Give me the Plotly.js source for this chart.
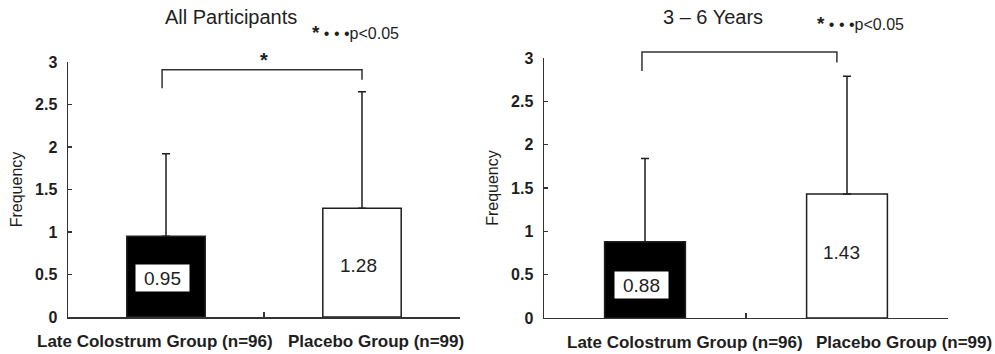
<!DOCTYPE html>
<html>
<head>
<meta charset="utf-8">
<script src="https://cdn.plot.ly/plotly-3.0.1.min.js"></script>
<style>html,body{margin:0;padding:0;background:#fff}#chart{width:995px;height:354px}</style>
</head>
<body>
<div id="chart"></div>
<script>
// ---- data ----
const groups = ["Late Colostrum Group (n=96)", "Placebo Group (n=99)"];
const panelTitles = ["All Participants", "3 \u2013 6 Years"];
const meansAll = [0.95, 1.28];
const sdAll = [0.97, 1.37];
const meansYoung = [0.88, 1.43];
const sdYoung = [0.96, 1.36];
const meanLabelsAll = ["0.95", "1.28"];
const meanLabelsYoung = ["0.88", "1.43"];
const sigStar = "*";
const sigRest = " \u2022 \u2022 \u2022p<0.05";
const yTickVals = [0, 0.5, 1, 1.5, 2, 2.5, 3];
const yTickText = ["0", "0.5", "1", "1.5", "2", "2.5", "3"];
// bracket: [left leg bottom, top, right leg bottom]
const bracketAll = [2.69, 2.91, 2.79];
const bracketYoung = [2.85, 3.07, 2.95];

const FONT = "Liberation Sans, Arial, sans-serif";
const INK = "#1e1e1e";
const xIdx = [0, 1];
const barColors = ["#000000", "#ffffff"];

function barTrace(means, sd, xa, ya) {
  return {
    type: "bar", x: xIdx, y: means, xaxis: xa, yaxis: ya, width: 0.4,
    marker: {color: barColors, line: {color: INK, width: 1.5}},
    error_y: {type: "data", symmetric: false, array: sd, arrayminus: [0, 0],
              color: INK, thickness: 1.5, width: 4},
    hoverinfo: "skip", showlegend: false
  };
}

const data = [
  barTrace(meansAll, sdAll, "x", "y"),
  barTrace(meansYoung, sdYoung, "x2", "y2")
];

const yDom1 = [0.1045, 0.8249];
const yDom2 = [0.1017, 0.836];
function toPaper(v, dom) { return dom[0] + (v / 3) * (dom[1] - dom[0]); }

function xAxis(domain, anchor) {
  return {
    domain: domain, anchor: anchor, range: [-0.5, 1.5], type: "linear",
    showline: true, linecolor: "#333", linewidth: 1.5, mirror: false,
    showgrid: false, zeroline: false,
    tickvals: [0.5, 1.5], ticks: "inside", ticklen: 5, tickwidth: 1.5, tickcolor: "#333",
    showticklabels: false, fixedrange: true
  };
}
function yAxis(domain, anchor) {
  return {
    domain: domain, anchor: anchor, range: [0, 3],
    showline: true, linecolor: "#333", linewidth: 1.5,
    showgrid: false, zeroline: false,
    tickvals: yTickVals, ticktext: yTickText.map(t => "<b>" + t + "</b>"),
    ticks: "inside", ticklen: 4, tickwidth: 1.2, tickcolor: "#333",
    ticklabelstandoff: 6,
    tickfont: {family: FONT, size: 16, color: INK},
    title: {text: "Frequency", font: {family: FONT, size: 16, color: INK}, standoff: 8},
    fixedrange: true
  };
}

function bracket(b, xr, dom, xl, xrR) {
  return {
    type: "path", xref: xr, yref: "paper",
    path: "M" + xl + "," + toPaper(b[0], dom) + " L" + xl + "," + toPaper(b[1], dom) +
          " L" + xrR + "," + toPaper(b[1], dom) + " L" + xrR + "," + toPaper(b[2], dom),
    line: {color: "#333", width: 1.5}
  };
}

const shapes = [
  bracket(bracketAll, "x", yDom1, -0.02, 1.0),
  bracket(bracketYoung, "x2", yDom2, -0.015, 0.95)
];

const annotations = [];
function ann(o) {
  annotations.push(Object.assign({showarrow: false, xanchor: "center", yanchor: "middle"}, o));
}
const sigNoteHtml = '<b><span style="font-size:19px">' + sigStar + '</span></b>' + sigRest;
// titles
ann({text: panelTitles[0], xref: "paper", yref: "paper", x: 231/995, y: 1 - 17/354,
  font: {family: FONT, size: 20, color: INK}});
ann({text: panelTitles[1], xref: "paper", yref: "paper", x: 713/995, y: 1 - 17/354,
  font: {family: FONT, size: 20, color: INK}});
// significance notes
ann({text: sigNoteHtml, xref: "paper", yref: "paper", x: 355/995, y: 1 - 32/354,
  font: {family: FONT, size: 16, color: INK}});
ann({text: sigNoteHtml, xref: "paper", yref: "paper", x: 860/995, y: 1 - 23/354,
  font: {family: FONT, size: 16, color: INK}});
// star over bracket (left)
ann({text: "<b>*</b>", xref: "x", yref: "paper", x: 0.5, y: 1 - 60/354,
  font: {family: FONT, size: 20, color: INK}});
// group labels
const shiftsL = [-11, 14], shiftsR = [40, 57];
groups.forEach((g, i) => {
  ann({text: "<b>" + g + "</b>", xref: "x", yref: "paper", x: xIdx[i], xshift: shiftsL[i],
    y: 1 - 341/354, font: {family: FONT, size: 17, color: INK}});
  ann({text: "<b>" + g + "</b>", xref: "x2", yref: "paper", x: xIdx[i], xshift: shiftsR[i],
    y: 1 - 342/354, font: {family: FONT, size: 17, color: INK}});
});
// value labels in bars
const labPosAll = [0.46, 0.61], labPosYoung = [0.38, 0.76];
meanLabelsAll.forEach((t, i) => {
  ann({text: t, xref: "x", yref: "y", x: xIdx[i], y: labPosAll[i],
    font: {family: FONT, size: 19, color: INK}, xshift: -3.5,
    bgcolor: i === 0 ? "#ffffff" : "rgba(0,0,0,0)", width: 51, height: 24, borderpad: 1});
});
meanLabelsYoung.forEach((t, i) => {
  ann({text: t, xref: "x2", yref: "y2", x: xIdx[i], y: labPosYoung[i],
    font: {family: FONT, size: 19, color: INK}, xshift: i === 0 ? -3.5 : -5.5,
    bgcolor: i === 0 ? "#ffffff" : "rgba(0,0,0,0)", width: 51, height: 24, borderpad: 1});
});

const layout = {
  width: 995, height: 354,
  margin: {l: 0, r: 0, t: 0, b: 0},
  paper_bgcolor: "#ffffff", plot_bgcolor: "#ffffff",
  showlegend: false, bargap: 0,
  xaxis: xAxis([68/995, 460/995], "y"),
  yaxis: yAxis(yDom1, "x"),
  xaxis2: xAxis([544/995, 948/995], "y2"),
  yaxis2: yAxis(yDom2, "x2"),
  shapes: shapes,
  annotations: annotations
};

Plotly.newPlot("chart", data, layout, {displayModeBar: false, staticPlot: true});
</script>
</body>
</html>
